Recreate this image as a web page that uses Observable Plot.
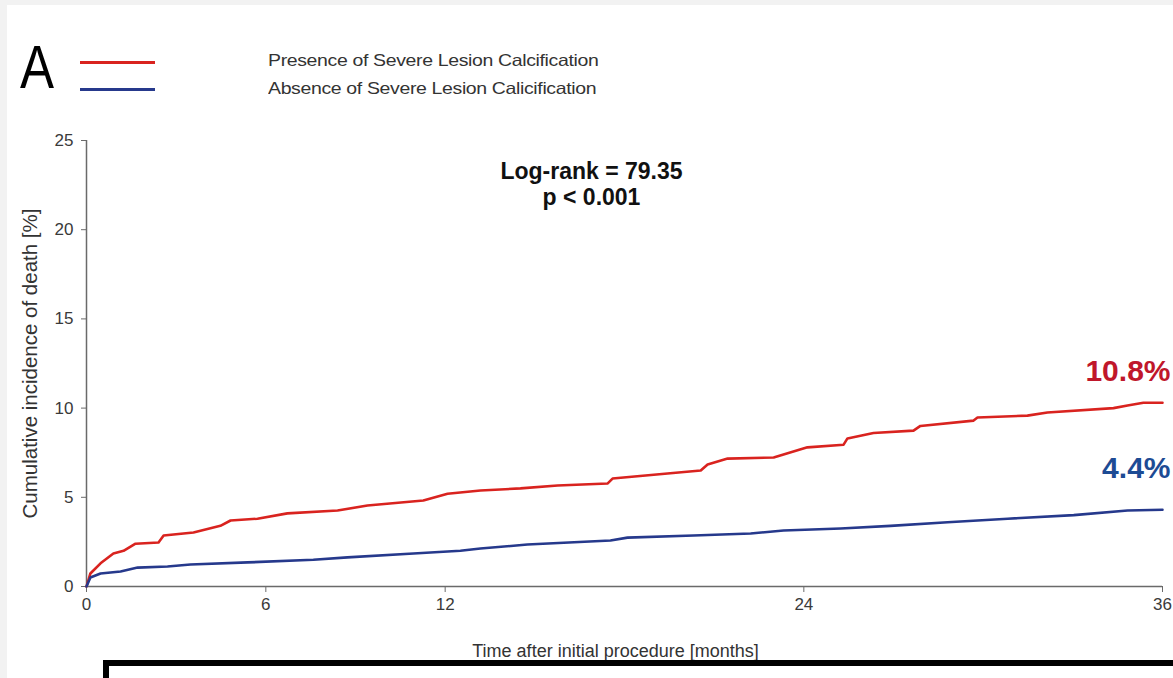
<!DOCTYPE html>
<html>
<head>
<meta charset="utf-8">
<script src="https://cdn.jsdelivr.net/npm/d3@7"></script>
<script src="https://cdn.jsdelivr.net/npm/@observablehq/plot@0.6"></script>
<style>
html, body { margin: 0; padding: 0; width: 1173px; height: 678px; overflow: hidden; background: #f2f2f2; font-family: "Liberation Sans", Arial, sans-serif; }
#page { position: absolute; left: 7px; top: 5px; width: 1166px; height: 673px; background: #fff; overflow: hidden; }
#header { position: relative; height: 105px; }
#letter { position: absolute; left: 13px; top: 29px; font-size: 58px; line-height: 64px; color: #000; transform: scale(0.88, 1.04); transform-origin: 0 0; }
.lg-line { position: absolute; left: 73px; width: 75px; height: 3px; }
.lg-text { position: absolute; left: 261px; font-size: 16.5px; line-height: 20px; color: #333; letter-spacing: -0.3px; white-space: nowrap; transform: scaleX(1.18); transform-origin: 0 50%; }
#box { position: absolute; left: 96px; top: 655px; width: 1100px; height: 60px; border: 6px solid #000; background: #fff; }
</style>
</head>
<body>
<div id="page">
  <div id="header">
    <div id="letter"></div>
    <div class="lg-line" id="l0" style="top:56px"></div>
    <div class="lg-line" id="l1" style="top:83px"></div>
    <div class="lg-text" id="t0" style="top:45px"></div>
    <div class="lg-text" id="t1" style="top:73px"></div>
  </div>
  <div id="chart"></div>
  <div id="box"></div>
</div>
<script>
// ---- data ----
const panelLetter = "A";
const seriesNames = ["Presence of Severe Lesion Calcification", "Absence of Severe Lesion Calicification"];
const seriesColors = ["#d9231f", "#26398c"];
const labelColors = ["#c0172b", "#1d4b94"];
const endLabels = ["10.8%", "4.4%"];
const statsText = "Log-rank = 79.35\np < 0.001";
const xLabel = "Time after initial procedure [months]";
const yLabel = "Cumulative incidence of death [%]";
const xTicks = [0, 6, 12, 24, 36];
const yTicks = [0, 5, 10, 15, 20, 25];

const redMonths = [0, 0.13, 0.47, 0.9, 1.24, 1.64, 2.41, 2.58, 3.58, 4.48, 4.82, 5.72, 6.72, 8.4, 9.4, 11.27, 12.08, 13.18, 14.52, 15.76, 17.43, 17.6, 19.44, 20.55, 20.78, 21.45, 22.99, 24.12, 25.33, 25.46, 26.33, 27.67, 27.9, 29.68, 29.81, 31.48, 32.15, 34.36, 34.83, 35.36, 36];
const redValues = [0, 0.73, 1.3, 1.85, 2.0, 2.4, 2.47, 2.86, 3.03, 3.4, 3.7, 3.8, 4.1, 4.26, 4.54, 4.82, 5.2, 5.38, 5.5, 5.66, 5.77, 6.05, 6.33, 6.5, 6.84, 7.17, 7.23, 7.8, 7.95, 8.3, 8.6, 8.74, 9.0, 9.3, 9.47, 9.58, 9.75, 10.0, 10.15, 10.3, 10.3];

const blueMonths = [0, 0.13, 0.47, 1.14, 1.71, 2.71, 3.48, 5.39, 7.59, 8.73, 10.94, 12.51, 13.18, 14.75, 17.53, 18.1, 20.31, 22.22, 23.32, 25.23, 26.9, 28.81, 30.82, 33.03, 34.83, 36];
const blueValues = [0, 0.5, 0.73, 0.84, 1.06, 1.12, 1.23, 1.35, 1.5, 1.63, 1.85, 2.0, 2.13, 2.35, 2.58, 2.74, 2.86, 2.97, 3.14, 3.25, 3.4, 3.6, 3.8, 4.0, 4.26, 4.3];

// ---- header (legend) ----
document.getElementById("letter").textContent = panelLetter;
document.getElementById("l0").style.background = seriesColors[0];
document.getElementById("l1").style.background = seriesColors[1];
document.getElementById("t0").textContent = seriesNames[0];
document.getElementById("t1").textContent = seriesNames[1];

// ---- chart ----
const rows = [
  ...redMonths.map((m, i) => ({series: seriesNames[0], month: m, value: redValues[i]})),
  ...blueMonths.map((m, i) => ({series: seriesNames[1], month: m, value: blueValues[i]}))
];
const ends = [
  {month: redMonths[redMonths.length - 1], value: redValues[redValues.length - 1], text: endLabels[0]},
  {month: blueMonths[blueMonths.length - 1], value: blueValues[blueValues.length - 1], text: endLabels[1]}
];

const chart = Plot.plot({
  width: 1166, height: 568,
  marginLeft: 79, marginRight: 11, marginTop: 30, marginBottom: 92,
  style: {fontFamily: "Liberation Sans, Arial, sans-serif", background: "white", color: "#3a3a3a", overflow: "visible"},
  x: {domain: [0, 36]},
  y: {domain: [0, 25]},
  color: {domain: seriesNames, range: seriesColors},
  marks: [
    Plot.ruleY([0], {stroke: "#6a6a6a", strokeWidth: 1.5}),
    Plot.ruleX([0], {stroke: "#6a6a6a", strokeWidth: 1.5}),
    Plot.axisX({ticks: xTicks, tickSize: 6, tickPadding: 5, fontSize: 17, label: null, stroke: "#6a6a6a"}),
    Plot.axisY({ticks: yTicks, tickSize: 5, tickPadding: 8, fontSize: 17, label: null, stroke: "#6a6a6a"}),
    Plot.line(rows, {x: "month", y: "value", z: "series", stroke: "series", strokeWidth: 2.6, curve: "linear"}),
    Plot.text([ends[0]], {x: "month", y: "value", text: "text", textAnchor: "end", dx: 8, dy: -31, fontSize: 30, fontWeight: "bold", fill: labelColors[0]}),
    Plot.text([ends[1]], {x: "month", y: "value", text: "text", textAnchor: "end", dx: 8, dy: -41, fontSize: 30, fontWeight: "bold", fill: labelColors[1]}),
    Plot.text([statsText], {frameAnchor: "top", dx: -33, dy: 20, fontSize: 23, fontWeight: "bold", lineHeight: 1.13, fill: "#111"}),
    Plot.text([yLabel], {frameAnchor: "left", textAnchor: "middle", rotate: -90, dx: -56, fontSize: 20.5, fill: "#333"}),
    Plot.text([xLabel], {frameAnchor: "bottom", dx: -9, dy: 70, fontSize: 18, fill: "#333", letterSpacing: "-0.3px"})
  ]
});
document.getElementById("chart").appendChild(chart);
</script>
</body>
</html>
